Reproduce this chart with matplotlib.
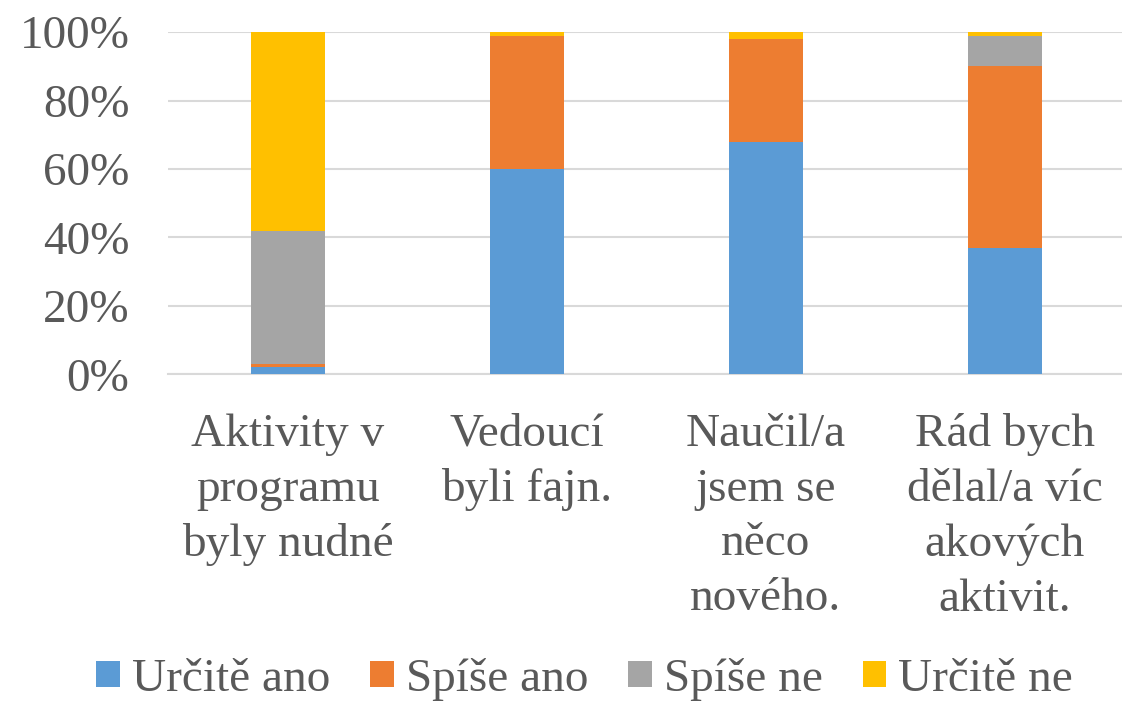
import matplotlib.pyplot as plt
from matplotlib.patches import Patch
from matplotlib.ticker import FuncFormatter

categories = [
    "Aktivity v\nprogramu\nbyly nudné",
    "Vedoucí\nbyli fajn.",
    "Naučil/a\njsem se\nněco\nnového.",
    "Rád bych\ndělal/a víc\nakových\naktivit.",
]

series_names = ["Určitě ano", "Spíše ano", "Spíše ne", "Určitě ne"]
urcite_ano = [2, 60, 68, 37]
spise_ano = [1, 39, 30, 53]
spise_ne = [39, 0, 0, 9]
urcite_ne = [58, 1, 2, 1]

colors = ["#5b9bd5", "#ed7d31", "#a5a5a5", "#ffc000"]
text_color = "#595959"

plt.rcParams["font.family"] = "serif"
plt.rcParams["font.serif"] = ["Liberation Serif", "Times New Roman", "DejaVu Serif"]

fig = plt.figure(figsize=(11.22, 7.01), dpi=100)
ax = fig.add_axes([0.150, 0.466, 0.852, 0.488])

x = list(range(len(categories)))
bottom = [0] * len(categories)
for name, vals, c in zip(series_names, [urcite_ano, spise_ano, spise_ne, urcite_ne], colors):
    ax.bar(x, vals, 0.31, bottom=bottom, color=c, label=name, zorder=3)
    bottom = [b + v for b, v in zip(bottom, vals)]

ax.set_xlim(-0.5, 3.5)
ax.set_ylim(0, 100)
ax.set_yticks(range(0, 101, 20))
ax.yaxis.set_major_formatter(FuncFormatter(lambda v, p: f"{v:.0f}%"))
ax.grid(axis="y", color="#d9d9d9", linewidth=1.5, zorder=0)
ax.set_xticks(x)
ax.set_xticklabels(categories, fontsize=34, color=text_color, linespacing=1.38)
ax.tick_params(axis="y", labelsize=34, labelcolor=text_color, length=0, pad=28)
ax.tick_params(axis="x", length=0, pad=28)
for s in ["top", "right", "left"]:
    ax.spines[s].set_visible(False)
ax.spines["bottom"].set_color("#d9d9d9")
ax.spines["bottom"].set_linewidth(1.5)

handles = [Patch(facecolor=c, edgecolor="none") for c in colors]
fig.legend(handles, series_names, loc="center", bbox_to_anchor=(0.521, 0.031),
           ncol=4, frameon=False, fontsize=34, labelcolor=text_color,
           handlelength=0.5, handleheight=0.5, handletextpad=0.25,
           columnspacing=0.85, borderaxespad=0)

fig.savefig("out.png", dpi=100)
